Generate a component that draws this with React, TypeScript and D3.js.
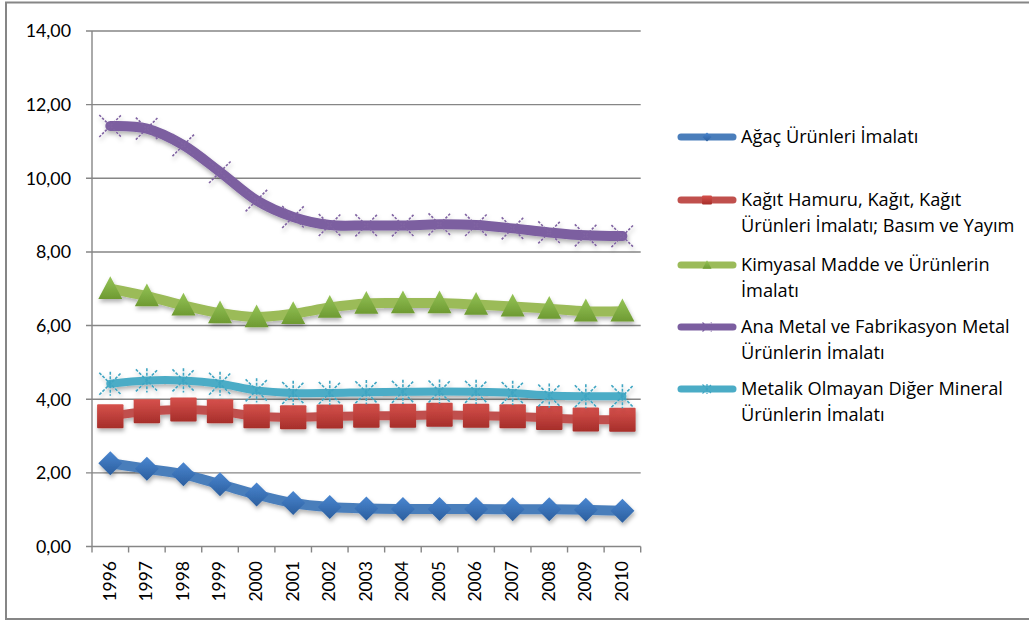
import React from "react";
import * as d3 from "d3";

const years = ["1996","1997","1998","1999","2000","2001","2002","2003","2004","2005","2006","2007","2008","2009","2010"];
const agac = [2.26,2.11,1.96,1.69,1.41,1.18,1.07,1.03,1.02,1.02,1.02,1.01,1.01,1.0,0.97];
const kagit = [3.54,3.67,3.72,3.67,3.54,3.51,3.53,3.55,3.55,3.58,3.55,3.54,3.49,3.45,3.44];
const kimya = [7.0,6.8,6.55,6.34,6.23,6.32,6.49,6.6,6.61,6.61,6.57,6.52,6.46,6.39,6.39];
const metal = [11.42,11.35,10.9,10.17,9.4,8.95,8.73,8.72,8.72,8.75,8.73,8.64,8.53,8.45,8.43];
const mineral = [4.42,4.51,4.51,4.42,4.24,4.17,4.17,4.19,4.2,4.21,4.2,4.17,4.1,4.08,4.08];
const yTicks = [0,2,4,6,8,10,12,14];

const seriesNames = [
  ["Ağaç Ürünleri İmalatı"],
  ["Kağıt Hamuru, Kağıt, Kağıt", "Ürünleri İmalatı; Basım ve Yayım"],
  ["Kimyasal Madde ve Ürünlerin", "İmalatı"],
  ["Ana Metal ve Fabrikasyon Metal", "Ürünlerin İmalatı"],
  ["Metalik Olmayan Diğer Mineral", "Ürünlerin İmalatı"],
];

type Marker = "diamond" | "square" | "triangle" | "x" | "star";
const seriesList: { values: number[]; color: string; marker: Marker; grad: [string, string]; width: number }[] = [
  { values: agac, color: "#4a7ebb", marker: "diamond", grad: ["#4a86d0", "#2b5e9e"], width: 10 },
  { values: kagit, color: "#c0504d", marker: "square", grad: ["#d6514c", "#a62e2a"], width: 9 },
  { values: kimya, color: "#9bbb59", marker: "triangle", grad: ["#95c457", "#6e9a32"], width: 10 },
  { values: metal, color: "#7b5ea0", marker: "x", grad: ["#8064a2", "#7a5da0"], width: 10 },
  { values: mineral, color: "#4bacc6", marker: "star", grad: ["#3fa5c2", "#3fa5c2"], width: 8 },
];

const legendY = [137, 200, 265, 327, 389];
const FONT = "Lato, 'Open Sans', sans-serif";
const LEGEND_FONT = "'Open Sans', Lato, sans-serif";

function MarkerShape({ type, x, y, s, fill, stroke, sw }: { type: Marker; x: number; y: number; s: number; fill: string; stroke: string; sw: number }) {
  const h = s / 2;
  if (type === "diamond") {
    return <path d={`M${x},${y - h}L${x + h},${y}L${x},${y + h}L${x - h},${y}Z`} fill={fill} />;
  }
  if (type === "square") {
    return <rect x={x - h * 1.1} y={y - h} width={s * 1.1} height={s} fill={fill} rx={1} />;
  }
  if (type === "triangle") {
    return <path d={`M${x},${y - h * 1.05}L${x + h},${y + h * 0.85}L${x - h},${y + h * 0.85}Z`} fill={fill} />;
  }
  if (type === "x") {
    return (
      <g stroke={stroke} strokeWidth={sw} strokeDasharray="2.5,1.5">
        <line x1={x - h} y1={y - h} x2={x + h} y2={y + h} />
        <line x1={x - h} y1={y + h} x2={x + h} y2={y - h} />
      </g>
    );
  }
  return (
    <g stroke={stroke} strokeWidth={sw} strokeDasharray="3,1.5">
      <line x1={x - h} y1={y - h} x2={x + h} y2={y + h} />
      <line x1={x - h} y1={y + h} x2={x + h} y2={y - h} />
      <line x1={x} y1={y - h * 1.1} x2={x} y2={y + h * 1.1} />
    </g>
  );
}

export default function App() {
  const W = 1029, H = 622;
  const left = 92, right = 640.7, top = 31, bottom = 546.5;
  const x = d3.scaleBand().domain(years).range([left, right]).padding(0);
  const y = d3.scaleLinear().domain([0, 14]).range([bottom, top]);
  const cx = (yr: string) => (x(yr) as number) + x.bandwidth() / 2;
  const line = d3.line<number>().x((_, i) => cx(years[i])).y((d) => y(d)).curve(d3.curveCatmullRom.alpha(0));

  return (
    <div style={{ position: "absolute", left: 0, top: 0 }}>
      <svg width={W} height={H} style={{ display: "block", fontFamily: FONT }}>
        <defs>
          <filter id="shadow" x="-20%" y="-20%" width="140%" height="160%">
            <feDropShadow dx="1" dy="3" stdDeviation="2" floodColor="#000" floodOpacity="0.3" />
          </filter>
          {seriesList.map((s, i) => (
            <linearGradient key={i} id={`g${i}`} x1="0" y1="0" x2="0" y2="1">
              <stop offset="0" stopColor={s.grad[0]} />
              <stop offset="1" stopColor={s.grad[1]} />
            </linearGradient>
          ))}
        </defs>
        <rect x={0} y={0} width={W} height={H} fill="#fff" />
        <rect x={6} y={2.5} width={1040} height={616.5} fill="none" stroke="#868686" strokeWidth={2} />
        {yTicks.map((t) => (
          <g key={t}>
            <line x1={left - 6} x2={right} y1={y(t)} y2={y(t)} stroke="#868686" strokeWidth={1.4} />
            <text x={71} y={y(t)} dy="0.36em" textAnchor="end" fontSize={17.8} fill="#000">
              {t.toFixed(2).replace(".", ",")}
            </text>
          </g>
        ))}
        <line x1={left} x2={left} y1={top} y2={bottom} stroke="#868686" strokeWidth={1.4} />
        {[...years.map((yr) => x(yr) as number), right].map((p, i) => (
          <line key={i} x1={p} x2={p} y1={bottom} y2={bottom + 6} stroke="#868686" strokeWidth={1.4} />
        ))}
        {years.map((yr) => (
          <text key={yr} transform={`translate(${cx(yr) - 1},${561}) rotate(-90)`} textAnchor="end" dy="0.36em" fontSize={17.5} fill="#000">
            {yr}
          </text>
        ))}
        {seriesList.map((s, si) => (
          <g key={si} filter="url(#shadow)">
            <path d={line(s.values) || ""} fill="none" stroke={s.color} strokeWidth={s.width} strokeLinecap="round" strokeLinejoin="round" />
            {s.values.map((v, i) => (
              <MarkerShape key={i} type={s.marker} x={cx(years[i])} y={y(v)} s={s.marker === "x" || s.marker === "star" ? 22 : 24} fill={`url(#g${si})`} stroke={s.grad[0]} sw={1.6} />
            ))}
          </g>
        ))}
        {seriesList.map((s, si) => (
          <g key={si}>
            <line x1={681} x2={733} y1={legendY[si]} y2={legendY[si]} stroke={s.color} strokeWidth={7} strokeLinecap="round" />
            <MarkerShape type={s.marker} x={707} y={legendY[si]} s={9} fill={`url(#g${si})`} stroke={s.grad[1]} sw={1.2} />
            {seriesNames[si].map((t, li) => (
              <text key={li} x={741} y={legendY[si] + 6 + li * 26} fontSize={18.2} fill="#000" fontFamily={LEGEND_FONT}>
                {t}
              </text>
            ))}
          </g>
        ))}
      </svg>
    </div>
  );
}
